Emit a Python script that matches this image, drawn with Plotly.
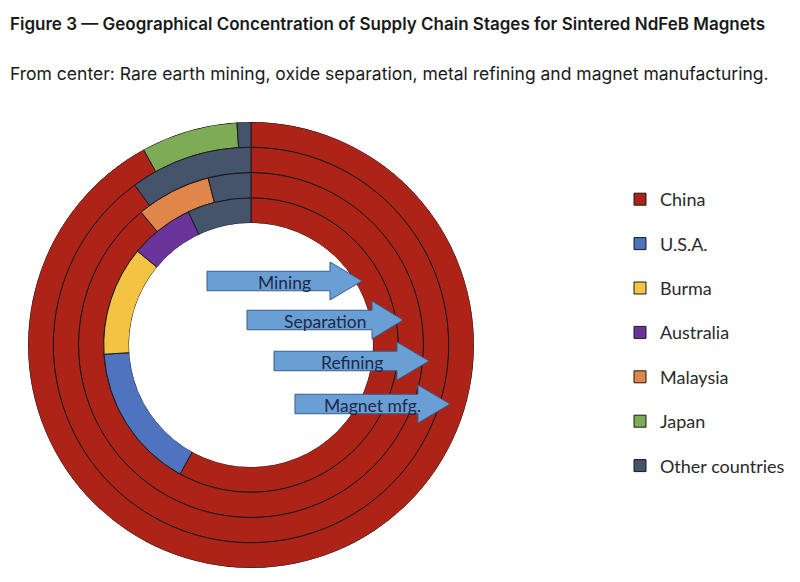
import plotly.graph_objects as go
import numpy as np

# ---------------- data ----------------
stages = ["Mining", "Separation", "Refining", "Magnet mfg."]
countries = ["China", "U.S.A.", "Burma", "Australia", "Malaysia", "Japan", "Other countries"]
china = [58, 89, 90, 92]
usa = [16, 0, 0, 0]
burma = [12, 0, 0, 0]
australia = [7, 0, 0, 0]
malaysia = [0, 7, 0, 0]
japan = [0, 0, 0, 7]
other = [7, 4, 10, 1]
colors = ["#ad2318", "#4f73be", "#f5c343", "#6b349a", "#e1864a", "#7eac56", "#46546b"]

shares = np.array([china, usa, burma, australia, malaysia, japan, other], dtype=float)

# page offset (default body margin) compensation
OFF = 8
W, H = 800 - 2 * OFF, 582 - 2 * OFF
CX, CY, R_OUT, R_IN = 251, 345, 223, 122

def px(x):
    return (x - OFF) / W

def py(y):
    return 1 - (y - OFF) / H

fig = go.Figure()

totals = shares.sum(axis=0)
cum = np.cumsum(shares, axis=0) - shares
for i, name in enumerate(countries):
    idx = [s for s in range(len(stages)) if shares[i, s] > 0]
    width = [shares[i, s] / totals[s] * 360 for s in idx]
    theta = [cum[i, s] / totals[s] * 360 + w / 2 for s, w in zip(idx, width)]
    fig.add_trace(go.Barpolar(
        r=[1] * len(idx),
        base=idx,
        theta=theta,
        width=width,
        name=name,
        legendgroup=name,
        marker=dict(color=colors[i], line=dict(color="#1a1a1a", width=1)),
        customdata=[stages[s] for s in idx],
        hovertemplate="%{customdata}: " + name + "<extra></extra>",
    ))

fig.update_layout(
    width=W, height=H,
    margin=dict(l=0, r=0, t=0, b=0),
    paper_bgcolor="white",
    plot_bgcolor="white",
    polar=dict(
        domain=dict(x=[px(CX - R_OUT), px(CX + R_OUT)], y=[py(CY + R_OUT), py(CY - R_OUT)]),
        hole=R_IN / R_OUT,
        bgcolor="rgba(0,0,0,0)",
        barmode="overlay",
        radialaxis=dict(range=[0, len(stages)], visible=False, showgrid=False),
        angularaxis=dict(rotation=90, direction="clockwise", visible=False, showgrid=False),
    ),
    showlegend=True,
    legend=dict(
        x=px(620), y=py(181), xanchor="left", yanchor="top",
        font=dict(family="Lato, Open Sans, sans-serif", size=18, color="#2a2a2a"),
        tracegroupgap=18,
        bgcolor="rgba(0,0,0,0)",
        itemwidth=30,
    ),
)

# Title / subtitle
fig.add_annotation(
    text="Figure 3 — Geographical Concentration of Supply Chain Stages for Sintered NdFeB Magnets",
    xref="paper", yref="paper", x=px(8), y=py(24), xanchor="left", yanchor="middle",
    showarrow=False, font=dict(family="Inter, Roboto, sans-serif", size=17, color="#1a1a1a", weight=600),
)
fig.add_annotation(
    text="From center: Rare earth mining, oxide separation, metal refining and magnet manufacturing.",
    xref="paper", yref="paper", x=px(8), y=py(74), xanchor="left", yanchor="middle",
    showarrow=False, font=dict(family="Inter, Roboto, sans-serif", size=17.5, color="#1a1a1a"),
)

# Block arrows pointing at each ring
arrow_geom = [
    # body_x0, body_x1, tip_x, center_y
    (207, 330, 362, 281),
    (247, 372, 403, 320),
    (274, 397, 429, 361),
    (295, 418, 450, 404),
]
BODY_H, HEAD_H = 19.5, 38
for label, (x0, x1, xt, yc) in zip(stages, arrow_geom):
    pts = [
        (x0, yc - BODY_H / 2), (x1, yc - BODY_H / 2), (x1, yc - HEAD_H / 2), (xt, yc),
        (x1, yc + HEAD_H / 2), (x1, yc + BODY_H / 2), (x0, yc + BODY_H / 2),
    ]
    path = "M " + " L ".join(f"{px(a):.5f},{py(b):.5f}" for a, b in pts) + " Z"
    fig.add_shape(type="path", path=path, xref="paper", yref="paper",
                  fillcolor="#6a9fd6", line=dict(color="#3a5b8c", width=1), layer="above")
    fig.add_annotation(
        text=label, xref="paper", yref="paper",
        x=px((x0 + x1) / 2 + (xt - x1) / 2), y=py(yc + 1),
        xanchor="center", yanchor="middle", showarrow=False,
        font=dict(family="Lato, Open Sans, sans-serif", size=17.5, color="#1c2a44"),
    )

# faint bottom band
fig.add_shape(type="rect", xref="paper", yref="paper", x0=0, x1=1, y0=py(582), y1=py(578),
              fillcolor="#eef2f2", line=dict(width=0), layer="below")

fig.write_html("out.html")
